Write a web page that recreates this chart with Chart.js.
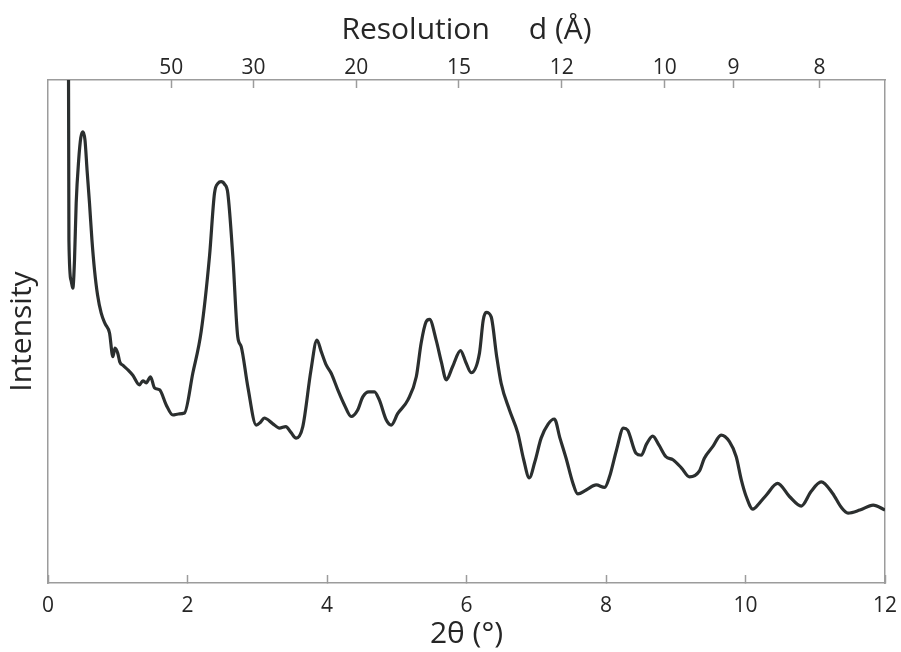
<!DOCTYPE html>
<html>
<head>
<meta charset="utf-8">
<script src="https://cdn.jsdelivr.net/npm/chart.js@4.4.1/dist/chart.umd.min.js"></script>
<style>
  html, body { margin: 0; padding: 0; background: #fff; }
  #wrap { width: 901px; height: 652px; }
</style>
</head>
<body>
<div id="wrap"><canvas id="xrd"></canvas></div>
<script>
// 2theta (deg)
const twoTheta = [
  0.29, 0.30, 0.33, 0.356, 0.38, 0.404, 0.44, 0.47, 0.499, 0.53, 0.56, 0.595,
  0.63, 0.667, 0.71, 0.762, 0.82, 0.882, 0.93, 0.96, 1.0, 1.03, 1.073, 1.15,
  1.216, 1.312, 1.36, 1.408, 1.47, 1.527, 1.6, 1.695, 1.79, 1.87, 1.957, 2.076,
  2.196, 2.315, 2.387, 2.44, 2.483, 2.53, 2.578, 2.65, 2.72, 2.77, 2.865, 2.985,
  3.05, 3.1, 3.22, 3.319, 3.41, 3.48, 3.558, 3.653, 3.77, 3.855, 3.92, 3.99,
  4.06, 4.155, 4.25, 4.347, 4.44, 4.513, 4.6, 4.68, 4.75, 4.85, 4.92, 5.015,
  5.16, 5.28, 5.35, 5.42, 5.47, 5.565, 5.64, 5.71, 5.80, 5.914, 5.99, 6.067,
  6.186, 6.24, 6.282, 6.354, 6.43, 6.497, 6.616, 6.736, 6.82, 6.90, 6.98, 7.07,
  7.17, 7.26, 7.34, 7.43, 7.52, 7.596, 7.716, 7.86, 7.98, 8.05, 8.15, 8.25,
  8.31, 8.43, 8.505, 8.58, 8.67, 8.76, 8.86, 8.96, 9.08, 9.197, 9.34, 9.41,
  9.53, 9.65, 9.77, 9.867, 9.94, 10.01, 10.105, 10.2, 10.30, 10.46, 10.63, 10.80,
  10.94, 11.085, 11.25, 11.37, 11.47, 11.64, 11.83, 12.0
]

// intensity, arbitrary units (axis top = 100)
const intensity = [
  130, 68.2, 60.2, 58.6, 64.2, 75.5, 84.1, 88.5, 89.7, 88.1, 82.1, 75.5,
  68.2, 62.2, 57.3, 53.7, 51.5, 49.7, 45.0, 46.7, 45.7, 43.9, 43.3, 42.3,
  41.3, 39.4, 40.2, 39.8, 41.0, 38.8, 38.4, 35.4, 33.4, 33.6, 33.8, 41.7,
  50.0, 64.9, 77.5, 79.5, 79.8, 79.3, 77.5, 64.9, 49.0, 47.0, 39.0, 31.4,
  32.0, 32.8, 31.7, 30.8, 31.1, 30.0, 28.8, 31.1, 42.3, 48.3, 45.9, 43.3,
  41.7, 38.4, 35.4, 33.1, 34.4, 37.0, 38.0, 38.0, 36.4, 32.4, 31.4, 33.7,
  36.4, 41.0, 47.7, 51.9, 52.4, 48.3, 43.9, 40.4, 43.0, 46.2, 43.9, 41.8,
  45.7, 52.3, 53.8, 52.9, 45.3, 39.7, 34.4, 29.8, 24.5, 20.9, 24.1, 28.8,
  31.6, 32.6, 28.8, 24.7, 20.1, 17.7, 18.5, 19.5, 19.0, 21.1, 26.4, 30.8,
  30.4, 25.8, 25.4, 27.6, 29.2, 27.4, 25.1, 24.5, 22.9, 21.1, 22.3, 24.8,
  27.1, 29.4, 28.1, 25.1, 20.5, 17.2, 14.7, 15.9, 17.5, 19.8, 17.2, 15.3,
  18.2, 20.1, 17.8, 15.1, 13.9, 14.5, 15.5, 14.5
]

// top axis: d-spacing labels (Angstrom), Cu K-alpha
const dTicks = [50, 30, 20, 15, 12, 10, 9, 8]
const lambda = 1.5418

function dToTwoTheta(d) {
  return 2 * Math.asin(lambda / (2 * d)) * 180 / Math.PI
}

const axisGrey = '#9c9c9c'
const textCol = '#262626'

Chart.defaults.font.family = '"Open Sans", sans-serif'
Chart.defaults.color = textCol

const points = twoTheta.map(function(x, i) {
  return { x: x, y: intensity[i] }
})

// keep end tick labels from pushing the plot area inwards
function noSidePadding(s, h) {
  s.height = h
  s.paddingLeft = 0
  s.paddingRight = 0
}

const ctx = document.getElementById('xrd').getContext('2d')
const xrdChart = new Chart(ctx, {
  type: 'line',
  data: {
    datasets: [{
      data: points,
      borderColor: '#2b2f2f',
      borderWidth: 3.2,
      pointRadius: 0,
      fill: false,
      cubicInterpolationMode: 'monotone'
    }]
  },
  options: {
    responsive: true,
    maintainAspectRatio: false,
    animation: false,
    layout: { padding: 0 },
    plugins: {
      legend: { display: false },
      tooltip: { enabled: false }
    },
    scales: {
      x: {
        type: 'linear',
        position: 'bottom',
        min: 0,
        max: 12,
        ticks: { stepSize: 2, padding: 18, font: { size: 21 }, maxRotation: 0 },
        grid: { drawOnChartArea: false, drawTicks: true, tickLength: -8, color: axisGrey, tickWidth: 1.5 },
        border: { display: true, color: axisGrey, width: 1.5 },
        title: { display: true, text: '2θ (°)', font: { size: 30 }, padding: { top: 0, bottom: 0 } },
        afterFit: function(s) { noSidePadding(s, 69) }
      },
      x2: {
        type: 'linear',
        position: 'top',
        min: 0,
        max: 12,
        afterBuildTicks: function(s) {
          s.ticks = dTicks.map(function(d) { return { value: dToTwoTheta(d) } })
        },
        ticks: {
          autoSkip: false,
          maxRotation: 0,
          padding: 7,
          font: { size: 21 },
          callback: function(v, i) { return dTicks[i] }
        },
        grid: { drawOnChartArea: false, drawTicks: true, tickLength: -8, color: axisGrey, tickWidth: 1.5 },
        border: { display: true, color: axisGrey, width: 1.5 },
        title: { display: true, text: 'Resolution     d (Å)', font: { size: 30 }, padding: { top: 12, bottom: 0 } },
        afterFit: function(s) { noSidePadding(s, 80) }
      },
      y: {
        type: 'linear',
        position: 'left',
        min: 0,
        max: 100,
        ticks: { display: false },
        grid: { display: true, drawOnChartArea: false, drawTicks: false },
        border: { display: true, color: axisGrey, width: 1.5 },
        title: { display: true, text: 'Intensity', font: { size: 30 }, padding: { top: 4, bottom: 0 } },
        afterFit: function(s) { s.width = 48 }
      },
      y2: {
        type: 'linear',
        position: 'right',
        min: 0,
        max: 100,
        ticks: { display: false },
        grid: { display: true, drawOnChartArea: false, drawTicks: false },
        border: { display: true, color: axisGrey, width: 1.5 },
        afterFit: function(s) { s.width = 16 }
      }
    }
  }
})
</script>
</body>
</html>
